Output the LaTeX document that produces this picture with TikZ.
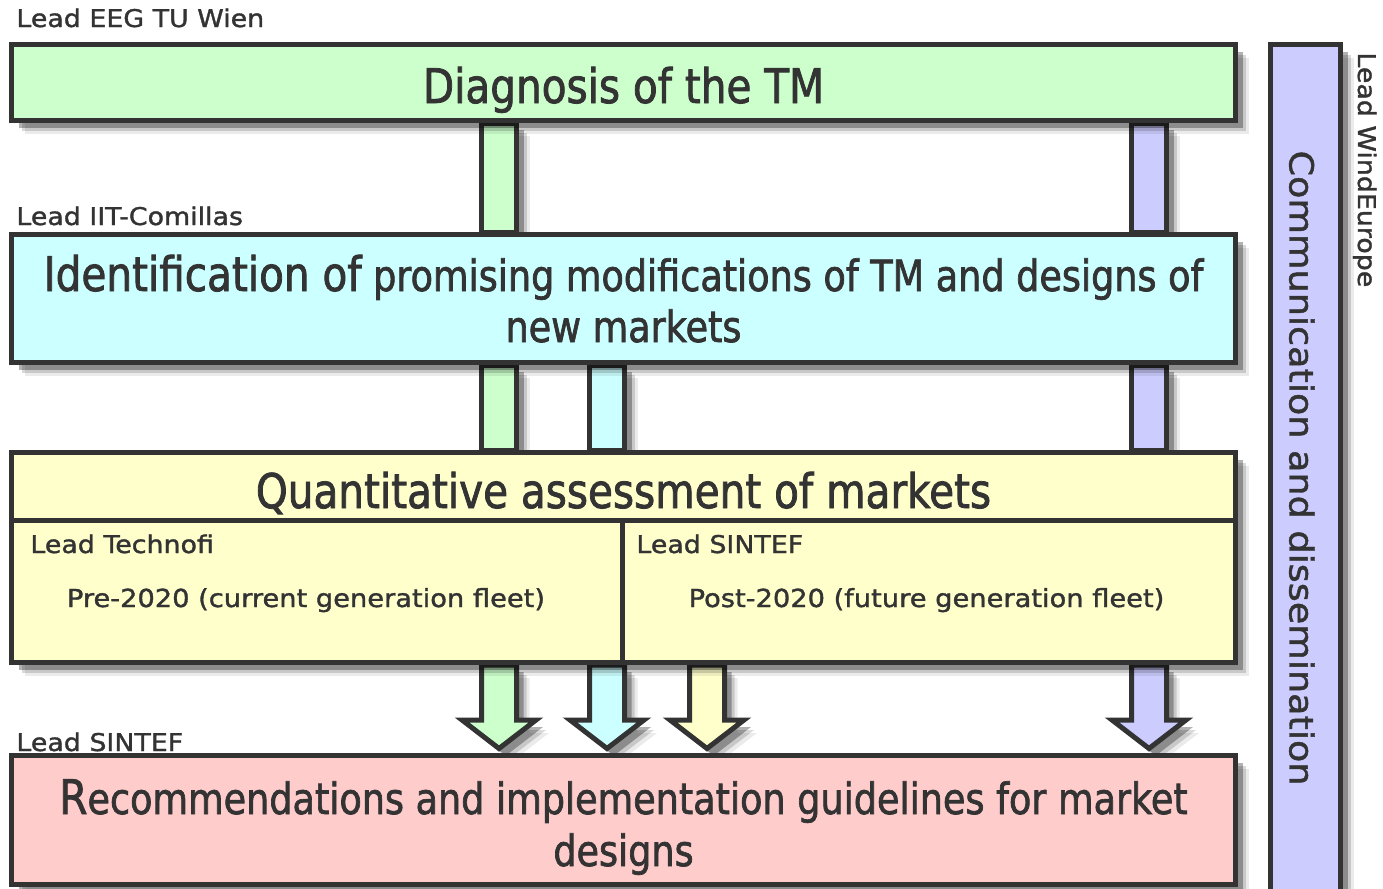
\documentclass[tikz,border=0pt]{standalone}
\usepackage{fontspec}
\setmainfont{DejaVu Sans}
\newfontfamily\boxfont[FakeStretch=0.85,FakeBold=1.6]{DejaVu Sans}
\newfontfamily\leadfont[FakeStretch=1.1,FakeBold=1.4]{DejaVu Sans}
\usetikzlibrary{calc,shadows,backgrounds}

\definecolor{ink}{HTML}{333333}
\definecolor{fillgreen}{HTML}{CCFFCC}
\definecolor{fillcyan}{HTML}{CCFFFF}
\definecolor{fillyellow}{HTML}{FFFFCC}
\definecolor{fillpink}{HTML}{FFCCCC}
\definecolor{filllav}{HTML}{CCCCFF}

\tikzset{
  softshadow/.style={
    drop shadow={shadow xshift=6.5pt,shadow yshift=-6.5pt,fill=black,opacity=0.08},
    drop shadow={shadow xshift=5pt,shadow yshift=-5pt,fill=black,opacity=0.15},
    drop shadow={shadow xshift=3.5pt,shadow yshift=-3.5pt,fill=black,opacity=0.3}},
  wpbox/.style={draw=ink, line width=2.5pt, softshadow, inner sep=0pt, minimum width=612pt},
  cellbox/.style={draw=ink, line width=2.5pt, fill=fillyellow, inner sep=0pt, minimum height=71pt},
  shaft/.style={draw=ink, line width=2.5pt, line join=miter, softshadow},
  boxtitle/.style={font=\boxfont\fontsize{23.85}{26}\selectfont, text=ink, inner sep=0pt, anchor=base},
  boxline/.style={font=\boxfont\fontsize{21.5}{26}\selectfont, text=ink, inner sep=0pt, anchor=base},
  leadlabel/.style={font=\leadfont\fontsize{12.2}{14}\selectfont, text=ink, inner sep=0pt, anchor=base west},
  fleettext/.style={font=\leadfont\fontsize{12.4}{14}\selectfont, text=ink, inner sep=0pt, anchor=base}
}

\begin{document}
\begin{tikzpicture}[x=0.5pt, y=-0.5pt]
  \useasboundingbox (0,0) rectangle (1383,889);

  % columns of the block connectors
  \coordinate (cg) at (499,0);
  \coordinate (cc) at (607,0);
  \coordinate (cy) at (707,0);
  \coordinate (cl) at (1149,0);

  % work packages
  \node[wpbox, fill=fillgreen, minimum height=38pt] (diag) at (623.5,82.5) {};
  \node[wpbox, fill=fillcyan, minimum height=64pt] (ident) at (623.5,298.5) {};
  \node[wpbox, fill=fillyellow, minimum height=105pt] (quant) at (623.5,557.5) {};
  \node[cellbox, minimum width=305.25pt, anchor=south west] (pre) at (quant.south west) {};
  \node[cellbox, minimum width=306.75pt, anchor=south east] (post) at (quant.south east) {};
  \node[wpbox, fill=fillpink, minimum height=64.5pt] (recs) at (623.5,820) {};
  \node[wpbox, fill=filllav, minimum width=35pt, minimum height=424.25pt] (comm) at (1305.5,468.75) {};

  \node[boxtitle] (diagtext) at (623.5,103) {Diagnosis of the TM};
  \node[boxline] (identtexta) at (623.5,291) {{\fontsize{23.85}{26}\selectfont Identification of} promising modifications of TM and designs of};
  \node[boxline] (identtextb) at (623.5,342) {new markets};
  \node[boxtitle] (quanttext) at (623.5,508) {Quantitative assessment of markets};
  \node[boxline] (recstexta) at (623.5,814) {{\fontsize{23.85}{26}\selectfont R}ecommendations and implementation guidelines for market};
  \node[boxline] (recstextb) at (623.5,866) {designs};

  \node[leadlabel] (prelead) at (30,553) {Lead Technofi};
  \node[fleettext] (pretext) at (306,607) {Pre-2020 (current generation fleet)};
  \node[leadlabel] (postlead) at (636,553) {Lead SINTEF};
  \node[fleettext] (posttext) at (926.5,607) {Post-2020 (future generation fleet)};

  \node[leadlabel, font=\leadfont\fontsize{16.6}{20}\selectfont, anchor=base, rotate=-90] (commtext) at (1289.5,468) {Communication and dissemination};

  % leaders
  \node[leadlabel] (diaglead) at (16,27) {Lead EEG TU Wien};
  \node[leadlabel] (identlead) at (16,225) {Lead IIT-Comillas};
  \node[leadlabel] (recslead) at (16,751) {Lead SINTEF};
  \node[leadlabel, rotate=-90] (commlead) at (1358,52) {Lead WindEurope};

  \begin{scope}[on background layer]
    \foreach \c/\col in {cg/fillgreen,cl/filllav}
      \draw[shaft, fill=\col] ($(diag.south -| \c)+(-17.5,0)$) rectangle ($(ident.north -| \c)+(17.5,0)$);
    \foreach \c/\col in {cg/fillgreen,cc/fillcyan,cl/filllav}
      \draw[shaft, fill=\col] ($(ident.south -| \c)+(-17.5,0)$) rectangle ($(quant.north -| \c)+(17.5,0)$);
    \foreach \c/\col in {cg/fillgreen,cc/fillcyan,cy/fillyellow,cl/filllav}
      \draw[shaft, fill=\col] ($(quant.south -| \c)+(-17.5,0)$)
        -- ($(recs.north -| \c)+(-17.5,-33)$) -- ++(-19.5,0)
        -- ($(recs.north -| \c)+(0,-4.5)$)
        -- ($(recs.north -| \c)+(37,-33)$) -- ++(-19.5,0)
        -- ($(quant.south -| \c)+(17.5,0)$) -- cycle;
  \end{scope}

\end{tikzpicture}
\end{document}
